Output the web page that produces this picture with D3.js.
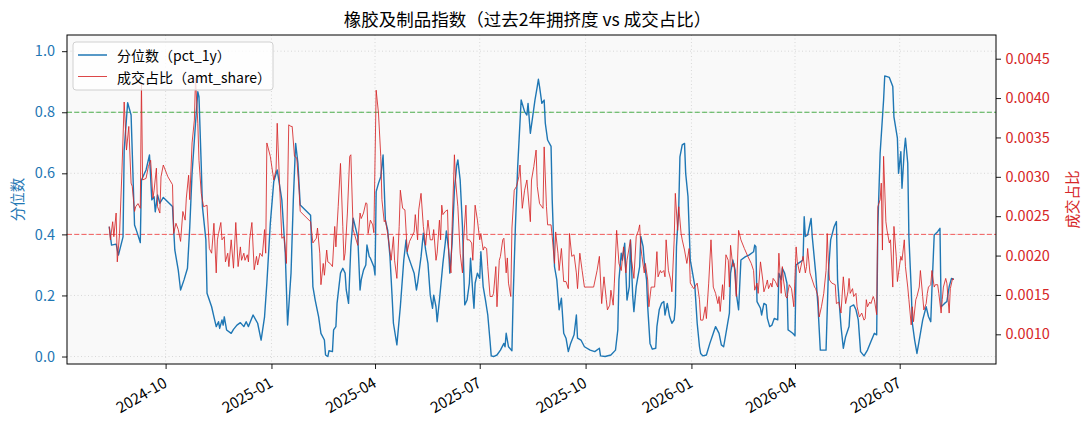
<!DOCTYPE html>
<html lang="zh">
<head>
    <meta charset="UTF-8">
    <title>橡胶及制品指数</title>
    <script src="https://cdn.jsdelivr.net/npm/d3@7/dist/d3.min.js"></script>
</head>
<style>
    html, body {
        margin: 0;
        padding: 0;
        background: #fff;
    }
    text {
        font-family: "Noto Sans CJK SC", "Noto Sans", sans-serif;
    }
</style>
<body>
    <div id="chart"></div>
</body>
<script>
    // 起始日期，下面的 day 数组都是相对这个日期的天数
    const startDate = new Date(2024, 7, 13);

    // 分位数 pct_1y
    const pctDays = [
        0, 2, 6, 8, 12, 13, 16, 19, 22, 24, 27, 28, 32, 35, 37, 39, 40, 42, 44, 47,
        55, 57, 60, 62, 65, 68, 70, 72, 75, 77, 78, 80, 81, 84, 85, 89, 91, 93, 95, 96,
        98, 99, 100, 102, 106, 108, 111, 114, 117, 119, 121, 125, 129, 132, 135, 137, 140, 143, 146, 150,
        153, 155, 158, 160, 162, 164, 166, 175, 177, 179, 182, 184, 187, 188, 190, 191, 194, 195, 197, 198,
        201, 203, 205, 206, 208, 210, 212, 216, 218, 219, 221, 223, 224, 226, 227, 230, 231, 232, 234, 236,
        238, 240, 242, 244, 246, 247, 250, 253, 256, 258, 259, 262, 265, 267, 268, 271, 273, 275, 277, 279,
        281, 282, 284, 285, 287, 290, 292, 293, 295, 296, 298, 300, 302, 303, 305, 307, 309, 311, 313, 314,
        316, 317, 318, 320, 322, 323, 325, 327, 329, 331, 332, 334, 337, 340, 343, 344, 345, 347, 350, 351,
        353, 355, 358, 361, 363, 364, 366, 368, 370, 372, 373, 374, 376, 378, 379, 381, 384, 385, 387, 389,
        391, 393, 395, 397, 399, 401, 404, 406, 407, 410, 413, 418, 422, 426, 427, 431, 436, 440, 442, 443,
        445, 446, 448, 450, 452, 453, 455, 456, 458, 459, 461, 462, 464, 465, 467, 468, 470, 472, 475, 476,
        478, 480, 482, 483, 485, 487, 489, 491, 492, 493, 495, 496, 498, 500, 501, 503, 505, 507, 509, 511,
        513, 514, 516, 519, 522, 525, 527, 530, 532, 534, 537, 539, 540, 542, 544, 545, 547, 549, 553, 556,
        560, 561, 562, 563, 566, 567, 569, 571, 572, 574, 576, 578, 581, 582, 584, 585, 587, 589, 590, 592,
        594, 596, 597, 601, 603, 604, 605, 607, 610, 611, 614, 616, 618, 623, 625, 627, 630, 632, 633, 636,
        638, 640, 643, 644, 647, 649, 651, 653, 656, 659, 662, 665, 667, 668, 670, 673, 674, 678, 681, 682,
        685, 686, 688, 689, 691, 692, 694, 695, 697, 698, 700, 702, 704, 707, 710, 712, 714, 715, 717, 720,
        722, 723, 726, 728, 730, 732, 734
    ];
    const pctValues = [
        0.425, 0.365, 0.368, 0.332, 0.392, 0.676, 0.831, 0.791, 0.431, 0.409, 0.373, 0.578, 0.611, 0.660, 0.513, 0.523, 0.474, 0.529, 0.502, 0.521,
        0.491, 0.349, 0.283, 0.218, 0.251, 0.289, 0.425, 0.600, 0.764, 0.867, 0.851, 0.622, 0.491, 0.382, 0.207, 0.163, 0.130, 0.098, 0.114, 0.092,
        0.120, 0.103, 0.130, 0.087, 0.076, 0.089, 0.103, 0.111, 0.098, 0.114, 0.098, 0.136, 0.109, 0.054, 0.130, 0.240, 0.436, 0.573, 0.611, 0.513,
        0.338, 0.103, 0.273, 0.513, 0.698, 0.633, 0.496, 0.463, 0.229, 0.185, 0.130, 0.076, 0.054, 0.005, 0.000, 0.019, 0.016, 0.087, 0.098, 0.174,
        0.273, 0.289, 0.273, 0.218, 0.174, 0.360, 0.453, 0.392, 0.218, 0.251, 0.283, 0.300, 0.365, 0.327, 0.322, 0.294, 0.267, 0.540, 0.567, 0.589,
        0.660, 0.447, 0.414, 0.327, 0.185, 0.109, 0.038, 0.163, 0.316, 0.382, 0.338, 0.305, 0.273, 0.218, 0.240, 0.327, 0.404, 0.349, 0.305, 0.201,
        0.158, 0.201, 0.163, 0.114, 0.185, 0.305, 0.371, 0.411, 0.349, 0.273, 0.371, 0.545, 0.627, 0.644, 0.578, 0.425, 0.169, 0.185, 0.240, 0.322,
        0.207, 0.158, 0.240, 0.273, 0.256, 0.343, 0.229, 0.185, 0.136, 0.049, 0.002, 0.000, 0.005, 0.021, 0.043, 0.032, 0.076, 0.032, 0.019, 0.185,
        0.425, 0.622, 0.840, 0.802, 0.791, 0.829, 0.731, 0.785, 0.840, 0.884, 0.908, 0.884, 0.829, 0.840, 0.764, 0.709, 0.688, 0.513, 0.294, 0.251,
        0.153, 0.191, 0.076, 0.060, 0.016, 0.043, 0.071, 0.136, 0.060, 0.054, 0.032, 0.021, 0.016, 0.027, 0.002, 0.000, 0.005, 0.021, 0.087, 0.251,
        0.338, 0.316, 0.371, 0.185, 0.229, 0.382, 0.196, 0.147, 0.229, 0.251, 0.294, 0.393, 0.360, 0.311, 0.251, 0.163, 0.043, 0.024, 0.027, 0.098,
        0.153, 0.174, 0.180, 0.136, 0.174, 0.131, 0.109, 0.120, 0.163, 0.360, 0.491, 0.654, 0.693, 0.698, 0.600, 0.524, 0.316, 0.273, 0.229, 0.109,
        0.032, 0.010, 0.002, 0.005, 0.043, 0.076, 0.098, 0.076, 0.038, 0.032, 0.098, 0.142, 0.273, 0.316, 0.283, 0.207, 0.153, 0.316, 0.327, 0.332,
        0.343, 0.365, 0.360, 0.180, 0.158, 0.136, 0.174, 0.169, 0.125, 0.098, 0.103, 0.125, 0.120, 0.273, 0.251, 0.289, 0.273, 0.240, 0.087, 0.082,
        0.076, 0.068, 0.300, 0.311, 0.316, 0.458, 0.393, 0.398, 0.452, 0.393, 0.273, 0.163, 0.021, 0.021, 0.273, 0.382, 0.425, 0.442, 0.251, 0.098,
        0.027, 0.065, 0.098, 0.163, 0.169, 0.153, 0.120, 0.016, 0.002, 0.021, 0.049, 0.076, 0.071, 0.425, 0.666, 0.840, 0.919, 0.914, 0.884, 0.785,
        0.715, 0.600, 0.671, 0.551, 0.676, 0.715, 0.633, 0.393, 0.223, 0.109, 0.054, 0.010, 0.054, 0.120, 0.163, 0.131, 0.114, 0.218, 0.398, 0.409,
        0.420, 0.163, 0.174, 0.180, 0.229, 0.256, 0.253
    ];

    // 成交占比 amt_share
    const shareDays = [
        0, 1, 3, 4, 6, 7, 9, 11, 13, 15, 17, 19, 20, 22, 23, 25, 27, 28, 29, 32,
        34, 36, 38, 39, 41, 42, 44, 45, 47, 51, 55, 56, 58, 60, 62, 64, 66, 67, 69, 70,
        72, 74, 75, 77, 78, 80, 82, 85, 87, 89, 91, 93, 94, 95, 97, 98, 100, 101, 103, 104,
        106, 108, 110, 112, 114, 115, 117, 118, 120, 121, 122, 124, 126, 128, 129, 131, 133, 135, 136, 137,
        140, 143, 145, 146, 148, 150, 152, 154, 156, 158, 159, 161, 163, 165, 166, 175, 177, 179, 180, 181,
        183, 184, 186, 187, 189, 190, 192, 194, 196, 197, 199, 201, 203, 204, 205, 207, 209, 210, 212, 213,
        216, 218, 219, 221, 223, 224, 225, 227, 229, 230, 232, 234, 236, 237, 239, 240, 242, 245, 247, 248,
        250, 252, 253, 255, 257, 259, 261, 263, 265, 266, 268, 269, 271, 273, 275, 277, 279, 281, 282, 284,
        285, 287, 288, 289, 290, 292, 294, 295, 297, 298, 300, 301, 303, 305, 307, 308, 310, 311, 313, 315,
        316, 318, 320, 322, 323, 325, 326, 328, 329, 331, 333, 334, 336, 337, 339, 340, 342, 343, 345, 346,
        347, 349, 350, 352, 354, 356, 357, 359, 361, 363, 366, 367, 369, 371, 372, 374, 376, 377, 378, 380,
        381, 384, 385, 387, 388, 390, 391, 393, 395, 397, 399, 400, 402, 404, 406, 407, 409, 411, 413, 421,
        424, 426, 428, 430, 432, 433, 435, 436, 438, 439, 441, 443, 445, 447, 449, 450, 453, 454, 456, 458,
        460, 461, 462, 463, 465, 466, 468, 469, 471, 474, 476, 477, 479, 480, 482, 483, 484, 486, 488, 489,
        491, 492, 494, 495, 497, 498, 500, 502, 504, 505, 508, 511, 513, 514, 516, 518, 519, 521, 523, 525,
        527, 529, 530, 531, 533, 534, 536, 538, 539, 540, 542, 543, 544, 545, 547, 549, 552, 555, 558, 560,
        561, 563, 564, 566, 568, 569, 571, 572, 573, 575, 576, 577, 579, 581, 582, 584, 585, 586, 588, 589,
        591, 593, 595, 597, 598, 600, 602, 603, 605, 606, 607, 609, 611, 613, 614, 616, 617, 619, 621, 623,
        624, 625, 626, 628, 631, 632, 634, 636, 638, 640, 642, 643, 644, 646, 647, 649, 650, 652, 654, 656,
        657, 658, 659, 661, 662, 664, 665, 667, 668, 670, 671, 672, 673, 675, 676, 678, 679, 681, 682, 684,
        685, 686, 688, 689, 691, 692, 694, 695, 697, 698, 699, 701, 702, 704, 705, 707, 708, 710, 711, 712,
        714, 715, 717, 718, 720, 721, 723, 724, 725, 727, 728, 730, 731, 733, 734
    ];
    const shareValues = [
        0.00237, 0.00220, 0.00243, 0.00224, 0.00254, 0.00192, 0.00228, 0.00305, 0.00395, 0.00334, 0.00364, 0.00292, 0.00288, 0.00256, 0.00262, 0.00266, 0.00260, 0.00420, 0.00296, 0.00298,
        0.00313, 0.00321, 0.00273, 0.00283, 0.00311, 0.00262, 0.00254, 0.00300, 0.00315, 0.00300, 0.00290, 0.00228, 0.00241, 0.00233, 0.00218, 0.00256, 0.00245, 0.00273, 0.00302, 0.00271,
        0.00343, 0.00372, 0.00425, 0.00368, 0.00321, 0.00279, 0.00262, 0.00264, 0.00209, 0.00203, 0.00241, 0.00178, 0.00220, 0.00228, 0.00242, 0.00220, 0.00224, 0.00192, 0.00203, 0.00186,
        0.00220, 0.00184, 0.00242, 0.00186, 0.00211, 0.00194, 0.00203, 0.00194, 0.00201, 0.00192, 0.00220, 0.00242, 0.00182, 0.00199, 0.00188, 0.00203, 0.00199, 0.00233, 0.00203, 0.00343,
        0.00326, 0.00296, 0.00309, 0.00368, 0.00292, 0.00222, 0.00224, 0.00190, 0.00366, 0.00364, 0.00364, 0.00326, 0.00324, 0.00283, 0.00256, 0.00243, 0.00216, 0.00220, 0.00222, 0.00235,
        0.00203, 0.00163, 0.00190, 0.00175, 0.00207, 0.00192, 0.00190, 0.00186, 0.00237, 0.00211, 0.00262, 0.00317, 0.00237, 0.00194, 0.00203, 0.00254, 0.00326, 0.00328, 0.00233, 0.00228,
        0.00213, 0.00254, 0.00247, 0.00254, 0.00267, 0.00266, 0.00228, 0.00245, 0.00239, 0.00229, 0.00410, 0.00381, 0.00326, 0.00271, 0.00243, 0.00245, 0.00228, 0.00194, 0.00224, 0.00194,
        0.00171, 0.00237, 0.00283, 0.00260, 0.00258, 0.00205, 0.00218, 0.00224, 0.00230, 0.00252, 0.00220, 0.00258, 0.00279, 0.00237, 0.00213, 0.00245, 0.00220, 0.00220, 0.00233, 0.00194,
        0.00203, 0.00245, 0.00220, 0.00264, 0.00252, 0.00256, 0.00258, 0.00205, 0.00178, 0.00237, 0.00328, 0.00296, 0.00262, 0.00203, 0.00178, 0.00220, 0.00264, 0.00220, 0.00220, 0.00216,
        0.00194, 0.00264, 0.00245, 0.00220, 0.00228, 0.00207, 0.00211, 0.00209, 0.00186, 0.00148, 0.00148, 0.00152, 0.00186, 0.00135, 0.00194, 0.00199, 0.00220, 0.00222, 0.00178, 0.00197,
        0.00165, 0.00148, 0.00235, 0.00283, 0.00288, 0.00300, 0.00315, 0.00260, 0.00283, 0.00296, 0.00243, 0.00296, 0.00313, 0.00334, 0.00288, 0.00266, 0.00262, 0.00260, 0.00338, 0.00262,
        0.00239, 0.00239, 0.00224, 0.00190, 0.00230, 0.00203, 0.00181, 0.00209, 0.00167, 0.00167, 0.00158, 0.00228, 0.00199, 0.00201, 0.00178, 0.00158, 0.00203, 0.00181, 0.00160, 0.00160,
        0.00181, 0.00199, 0.00139, 0.00173, 0.00144, 0.00131, 0.00137, 0.00156, 0.00137, 0.00165, 0.00232, 0.00190, 0.00181, 0.00211, 0.00178, 0.00194, 0.00220, 0.00194, 0.00171, 0.00224,
        0.00232, 0.00239, 0.00211, 0.00199, 0.00178, 0.00190, 0.00169, 0.00135, 0.00160, 0.00160, 0.00205, 0.00173, 0.00181, 0.00178, 0.00181, 0.00173, 0.00220, 0.00181, 0.00169, 0.00154,
        0.00220, 0.00279, 0.00232, 0.00262, 0.00228, 0.00220, 0.00207, 0.00190, 0.00209, 0.00165, 0.00158, 0.00165, 0.00144, 0.00118, 0.00118, 0.00135, 0.00120, 0.00165, 0.00220, 0.00160,
        0.00152, 0.00139, 0.00148, 0.00129, 0.00163, 0.00144, 0.00201, 0.00194, 0.00160, 0.00213, 0.00186, 0.00190, 0.00169, 0.00148, 0.00232, 0.00220, 0.00209, 0.00199, 0.00190, 0.00181,
        0.00156, 0.00165, 0.00152, 0.00192, 0.00169, 0.00154, 0.00163, 0.00169, 0.00158, 0.00165, 0.00160, 0.00171, 0.00167, 0.00160, 0.00203, 0.00152, 0.00186, 0.00169, 0.00148, 0.00146,
        0.00163, 0.00158, 0.00135, 0.00211, 0.00192, 0.00178, 0.00192, 0.00199, 0.00178, 0.00186, 0.00209, 0.00178, 0.00169, 0.00160, 0.00158, 0.00148, 0.00122, 0.00135, 0.00152, 0.00181,
        0.00228, 0.00192, 0.00169, 0.00165, 0.00163, 0.00139, 0.00141, 0.00127, 0.00173, 0.00139, 0.00154, 0.00171, 0.00152, 0.00158, 0.00148, 0.00152, 0.00135, 0.00122, 0.00127, 0.00118,
        0.00120, 0.00144, 0.00135, 0.00141, 0.00139, 0.00148, 0.00144, 0.00125, 0.00262, 0.00271, 0.00292, 0.00207, 0.00326, 0.00243, 0.00232, 0.00216, 0.00220, 0.00160, 0.00237, 0.00199,
        0.00167, 0.00178, 0.00199, 0.00194, 0.00220, 0.00186, 0.00160, 0.00144, 0.00112, 0.00135, 0.00116, 0.00144, 0.00148, 0.00160, 0.00181, 0.00148, 0.00131, 0.00139, 0.00152, 0.00160,
        0.00163, 0.00181, 0.00160, 0.00163, 0.00163, 0.00152, 0.00127, 0.00144, 0.00160, 0.00171, 0.00165, 0.00127, 0.00158, 0.00171, 0.00169
    ];

    // 轴刻度
    const pctTicks = [0.0, 0.2, 0.4, 0.6, 0.8, 1.0];
    const shareTicks = [0.0010, 0.0015, 0.0020, 0.0025, 0.0030, 0.0035, 0.0040, 0.0045];
    const highLine = 0.8;
    const lowLine = 0.4;

    const width = 1089;
    const height = 429;
    const margin = {top: 35, right: 93, bottom: 65, left: 67};
    const innerW = width - margin.left - margin.right;
    const innerH = height - margin.top - margin.bottom;

    const blue = '#1f77b4';
    const red = '#d62728';

    const pctData = pctDays.map((d, i) => ({date: d3.timeDay.offset(startDate, d), v: pctValues[i]}));
    const shareData = shareDays.map((d, i) => ({date: d3.timeDay.offset(startDate, d), v: shareValues[i]}));

    const svg = d3.select('#chart').append('svg')
        .attr('width', width)
        .attr('height', height);

    // x 轴范围仿照 matplotlib 的 5% 边距
    const ext = d3.extent(pctData.concat(shareData), d => d.date);
    const pad = (ext[1] - ext[0]) * 0.05;
    const x = d3.scaleTime()
        .domain([new Date(+ext[0] - pad), new Date(+ext[1] + pad)])
        .range([0, innerW]);
    const yL = d3.scaleLinear().domain([-0.0245, 1.053]).range([innerH, 0]);
    const yR = d3.scaleLinear().domain([0.000623, 0.004801]).range([innerH, 0]);

    const g = svg.append('g').attr('transform', `translate(${margin.left},${margin.top})`);

    g.append('rect')
        .attr('width', innerW)
        .attr('height', innerH)
        .attr('fill', '#f9f9f9');

    const xTicks = x.ticks(d3.timeMonth.every(3));

    // 网格
    g.append('g').selectAll('line').data(xTicks).enter().append('line')
        .attr('x1', d => x(d)).attr('x2', d => x(d))
        .attr('y1', 0).attr('y2', innerH)
        .attr('stroke', '#cfcfcf')
        .attr('stroke-width', 0.8)
        .attr('stroke-dasharray', '1,2.5');
    g.append('g').selectAll('line').data(pctTicks).enter().append('line')
        .attr('x1', 0).attr('x2', innerW)
        .attr('y1', d => yL(d)).attr('y2', d => yL(d))
        .attr('stroke', '#cfcfcf')
        .attr('stroke-width', 0.8)
        .attr('stroke-dasharray', '1,2.5');

    // 阈值线
    g.append('line')
        .attr('x1', 0).attr('x2', innerW)
        .attr('y1', yL(highLine)).attr('y2', yL(highLine))
        .attr('stroke', '#4cae4c')
        .attr('stroke-width', 1)
        .attr('stroke-dasharray', '5,2.3');
    g.append('line')
        .attr('x1', 0).attr('x2', innerW)
        .attr('y1', yL(lowLine)).attr('y2', yL(lowLine))
        .attr('stroke', '#f25a5a')
        .attr('stroke-width', 1)
        .attr('stroke-dasharray', '5,2.3');

    g.append('clipPath').attr('id', 'clip')
        .append('rect').attr('width', innerW).attr('height', innerH);

    const pctLine = d3.line().x(d => x(d.date)).y(d => yL(d.v));
    const shareLine = d3.line().x(d => x(d.date)).y(d => yR(d.v));

    g.append('path')
        .datum(pctData)
        .attr('clip-path', 'url(#clip)')
        .attr('fill', 'none')
        .attr('stroke', blue)
        .attr('stroke-width', 1.4)
        .attr('stroke-linejoin', 'round')
        .attr('d', pctLine);

    g.append('path')
        .datum(shareData)
        .attr('clip-path', 'url(#clip)')
        .attr('fill', 'none')
        .attr('stroke', red)
        .attr('stroke-opacity', 0.85)
        .attr('stroke-width', 1)
        .attr('stroke-linejoin', 'round')
        .attr('d', shareLine);

    // 坐标轴
    const xAxis = g.append('g')
        .attr('transform', `translate(0,${innerH})`)
        .call(d3.axisBottom(x).tickValues(xTicks).tickFormat(d3.timeFormat('%Y-%m')).tickSizeOuter(0).tickSize(5));
    // 旋转 30 度，右端对齐刻度
    xAxis.selectAll('text')
        .attr('font-size', '15px')
        .attr('fill', '#000')
        .attr('text-anchor', 'end')
        .attr('x', 0)
        .attr('y', 0)
        .attr('dx', 0)
        .attr('dy', 0)
        .attr('transform', 'translate(2,22) rotate(-30)');

    const leftAxis = g.append('g')
        .call(d3.axisLeft(yL).tickValues(pctTicks).tickFormat(d3.format('.1f')).tickSizeOuter(0).tickSize(5));
    leftAxis.selectAll('text').attr('font-size', '14.5px').attr('fill', blue).attr('x', -12);

    const rightAxis = g.append('g')
        .attr('transform', `translate(${innerW},0)`)
        .call(d3.axisRight(yR).tickValues(shareTicks).tickFormat(d3.format('.4f')).tickSizeOuter(0).tickSize(5));
    rightAxis.selectAll('text').attr('font-size', '14.5px').attr('fill', red).attr('x', 9.5);

    g.selectAll('.domain').remove();
    g.selectAll('.tick line').attr('stroke', '#000').attr('stroke-width', 0.9);

    // 边框
    g.append('rect')
        .attr('width', innerW)
        .attr('height', innerH)
        .attr('fill', 'none')
        .attr('stroke', '#000')
        .attr('stroke-width', 1);

    // 标题和轴标题
    svg.append('text')
        .attr('x', margin.left + innerW / 2 - 4)
        .attr('y', 26)
        .attr('text-anchor', 'middle')
        .attr('font-size', '17.5px')
        .attr('fill', '#000')
        .text('橡胶及制品指数（过去2年拥挤度 vs 成交占比）');

    svg.append('text')
        .attr('transform', `translate(16,${margin.top + innerH / 2}) rotate(-90)`)
        .attr('text-anchor', 'middle')
        .attr('dominant-baseline', 'central')
        .attr('font-size', '14.5px')
        .attr('fill', blue)
        .text('分位数');

    svg.append('text')
        .attr('transform', `translate(1071,${margin.top + innerH / 2}) rotate(-90)`)
        .attr('text-anchor', 'middle')
        .attr('dominant-baseline', 'central')
        .attr('font-size', '14.5px')
        .attr('fill', red)
        .text('成交占比');

    // 图例
    const legend = g.append('g').attr('transform', 'translate(6,7)');
    legend.append('rect')
        .attr('width', 200)
        .attr('height', 48)
        .attr('rx', 3)
        .attr('fill', '#fff')
        .attr('fill-opacity', 0.8)
        .attr('stroke', '#d0d0d0');
    const items = [
        {label: '分位数（pct_1y）', color: blue, w: 1.5, op: 1},
        {label: '成交占比（amt_share）', color: red, w: 1, op: 0.85}
    ];
    items.forEach((it, i) => {
        const yy = 13 + i * 21.5;
        legend.append('line')
            .attr('x1', 5).attr('x2', 34)
            .attr('y1', yy).attr('y2', yy)
            .attr('stroke', it.color)
            .attr('stroke-opacity', it.op)
            .attr('stroke-width', it.w);
        legend.append('text')
            .attr('x', 44)
            .attr('y', yy)
            .attr('dominant-baseline', 'central')
            .attr('font-size', '14px')
            .attr('fill', '#000')
            .text(it.label);
    });
</script>
</html>
